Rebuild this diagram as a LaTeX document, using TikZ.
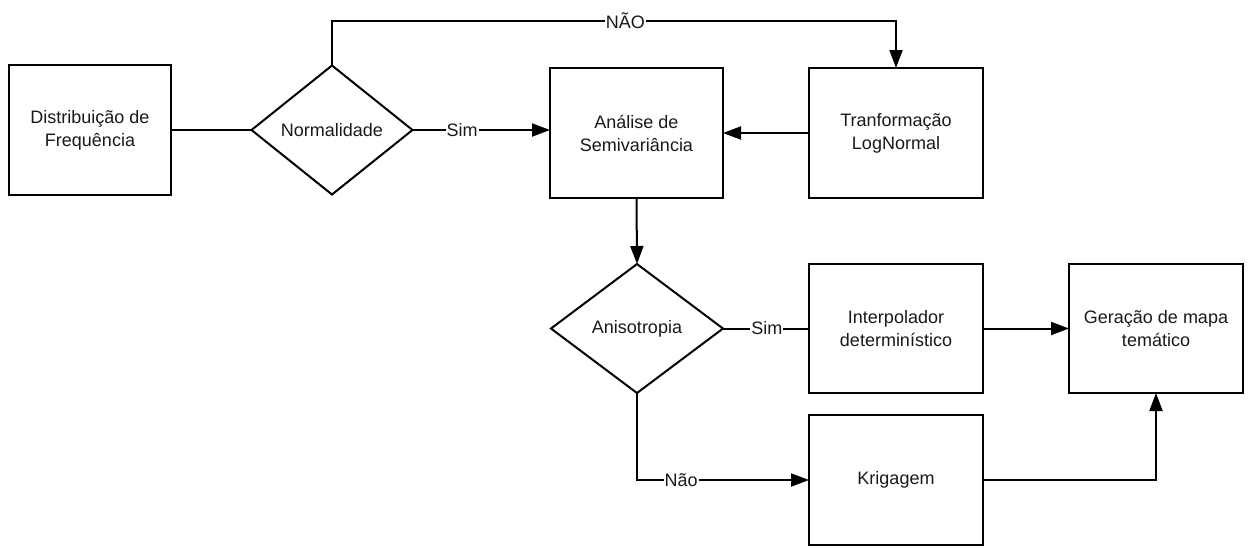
\documentclass[tikz,border=0pt]{standalone}
\usepackage{fontspec}
\setmainfont{Liberation Sans}
\usetikzlibrary{shapes.geometric,arrows.meta}
\begin{document}
\begin{tikzpicture}[x=1pt,y=-1pt,
  font=\fontsize{18}{23}\selectfont,
  every node/.style={text=black!90},
  box/.style={draw=black,line width=2pt,rectangle,inner sep=0pt,outer sep=0pt,align=center},
  dec/.style={draw=black,line width=2pt,diamond,inner sep=0pt,outer sep=0pt,align=center},
  conn/.style={draw=black,line width=2pt},
  arr/.style={conn,-{Triangle[length=18pt,width=13pt]}},
  lab/.style={fill=white,inner sep=1pt}]
\useasboundingbox (0,0) rectangle (1251,547);
\node[box,minimum width=162pt,minimum height=130pt] (dist) at (90,130) {Distribuição de\\Frequência};
\node[dec,minimum width=161pt,minimum height=129pt] (norm) at (332,130) {Normalidade};
\node[box,minimum width=173pt,minimum height=130pt] (ana) at (636.5,133) {Análise de\\Semivariância};
\node[box,minimum width=174pt,minimum height=130pt] (tra) at (896,133) {Tranformação\\LogNormal};
\node[dec,minimum width=172pt,minimum height=129pt] (aniso) at (637,328.5) {Anisotropia};
\node[box,minimum width=174pt,minimum height=129pt] (interp) at (896,328.5) {Interpolador\\determinístico};
\node[box,minimum width=174pt,minimum height=129pt] (ger) at (1156,328.5) {Geração de mapa\\temático};
\node[box,minimum width=174pt,minimum height=130pt] (krig) at (896,480) {Krigagem};
\coordinate (n1) at (332,21);
\coordinate (n2) at (896,21);
\draw[conn] (dist.east) -- (norm.west);
\draw[arr] (norm.east) -- node[lab,pos=0.36]{Sim} (norm.east -| ana.west);
\draw[arr] (norm.north) -- (n1) -- node[lab,pos=0.52]{NÃO} (n2) -- (tra.north);
\draw[arr] (tra.west) -- (ana.east);
\draw[arr] (ana.south) -- (aniso.north);
\draw[conn] (aniso.east) -- node[lab,pos=0.51]{Sim} (interp.west);
\draw[arr] (interp.east) -- (ger.west);
\draw[arr] (aniso.south) |- node[lab,pos=0.628]{Não} (krig.west);
\draw[arr] (krig.east) -| (ger.south);
\end{tikzpicture}
\end{document}
